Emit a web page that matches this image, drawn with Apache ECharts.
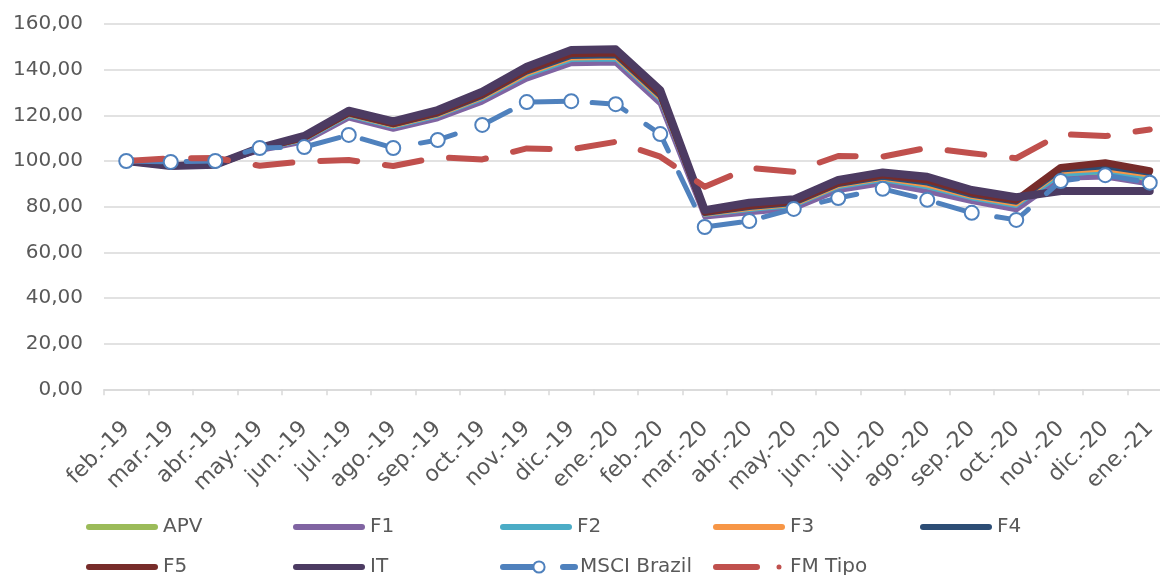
<!DOCTYPE html>
<html>
<head>
<meta charset="utf-8">
<script src="https://cdn.jsdelivr.net/npm/echarts@6/dist/echarts.min.js"></script>
<style>
html,body{margin:0;padding:0;background:#fff;}
#chart{width:1160px;height:575px;}
</style>
</head>
<body>
<div id="chart"></div>
<script>
var categories = ['feb.-19','mar.-19','abr.-19','may.-19','jun.-19','jul.-19','ago.-19','sep.-19','oct.-19','nov.-19','dic.-19','ene.-20','feb.-20','mar.-20','abr.-20','may.-20','jun.-20','jul.-20','ago.-20','sep.-20','oct.-20','nov.-20','dic.-20','ene.-21'];
var yTicks = [0, 20, 40, 60, 80, 100, 120, 140, 160];

var APV  = [100, 98.1, 98.7, 104.9, 108.9, 119.5, 114.6, 119.3, 126.8, 137.0, 143.8, 144.1, 126.3, 76.1, 78.2, 80.0, 88.1, 91.2, 88.0, 83.2, 79.9, 93.4, 94.8, 91.9];
var F1   = [100, 98.1, 98.7, 104.6, 108.4, 118.8, 113.9, 118.5, 125.8, 135.9, 142.6, 142.9, 125.0, 75.5, 77.3, 79.1, 87.1, 90.1, 86.6, 82.2, 78.6, 92.4, 93.0, 89.9];
var F2   = [100, 98.0, 98.6, 105.0, 109.1, 119.7, 114.9, 119.6, 127.1, 137.4, 144.2, 144.5, 126.7, 76.3, 78.5, 80.3, 88.5, 91.6, 88.5, 83.6, 80.3, 93.9, 95.3, 92.4];
var F3   = [100, 98.0, 98.6, 105.1, 109.4, 120.1, 115.3, 120.0, 127.6, 138.0, 144.9, 145.2, 127.4, 76.6, 79.0, 80.8, 89.0, 92.2, 89.2, 84.2, 80.9, 95.2, 96.3, 93.6];
var F4   = [100, 98.0, 98.5, 105.3, 109.8, 120.6, 115.8, 120.6, 128.3, 138.9, 145.8, 146.1, 128.3, 77.0, 79.6, 81.4, 89.7, 92.9, 90.3, 85.0, 81.9, 96.0, 97.5, 94.6];
var F5   = [100, 97.9, 98.5, 105.5, 110.3, 121.2, 116.4, 121.3, 129.2, 139.9, 147.0, 147.3, 129.5, 77.6, 80.4, 82.2, 90.5, 93.8, 91.7, 86.0, 82.9, 97.2, 99.2, 95.7];
var IT   = [100, 97.8, 98.4, 105.8, 111.0, 122.0, 117.3, 122.3, 130.3, 141.3, 148.6, 148.9, 131.0, 78.5, 81.7, 83.2, 91.7, 95.0, 93.1, 87.3, 84.1, 86.8, 86.8, 86.8];
var MSCI = [100, 99.6, 100.0, 105.7, 106.1, 111.4, 105.7, 109.2, 115.8, 125.8, 126.2, 124.9, 111.8, 71.1, 73.7, 79.0, 83.8, 87.8, 83.0, 77.3, 74.2, 91.2, 93.8, 90.5];
var FMTipo = [100, 101.2, 101.3, 97.9, 99.8, 100.4, 97.8, 101.6, 100.7, 105.5, 105.1, 108.4, 101.9, 88.7, 97.0, 95.3, 102.2, 101.9, 105.8, 103.4, 101.2, 111.8, 110.9, 113.8];

var FONT = 'DejaVu Sans';
var TXT = '#595959';
var GRID = '#d9d9d9';

// legend icon shapes (solid bar with round ends; dash + dot)
var ICON_SOLID = 'path://M3,0 L69,0 A3,3 0 0 1 69,6 L3,6 A3,3 0 0 1 3,0 Z';
var ICON_DASHDOT = 'path://M3,0 L44,0 A3,3 0 0 1 44,6 L3,6 A3,3 0 0 1 3,0 Z M66,0.5 A2.5,2.5 0 1 1 66,5.5 A2.5,2.5 0 1 1 66,0.5 Z M71.9,2.9 L72,2.9 L72,3.1 L71.9,3.1 Z';

function solid(name, data, color, width) {
  return {
    name: name, type: 'line', data: data, symbol: 'none', smooth: false,
    lineStyle: {color: color, width: width, cap: 'round', join: 'round'},
    itemStyle: {color: color},
    emphasis: {disabled: true}, animation: false
  };
}

var series = [
  solid('APV', APV, '#9BBB59', 4),
  solid('F1', F1, '#8064A2', 5),
  solid('F2', F2, '#4BACC6', 4),
  solid('F3', F3, '#F79646', 4),
  solid('F4', F4, '#2C4D75', 5),
  solid('F5', F5, '#772C2A', 7),
  solid('IT', IT, '#4C3B62', 8),
  {
    name: 'MSCI Brazil', type: 'line', data: MSCI,
    symbol: 'circle', symbolSize: 14, showAllSymbol: true,
    lineStyle: {color: '#4F81BD', width: 5, type: [36, 24], cap: 'round', join: 'round'},
    itemStyle: {color: '#ffffff', borderColor: '#4F81BD', borderWidth: 2},
    emphasis: {disabled: true}, animation: false
  },
  {
    name: 'FM Tipo', type: 'line', data: FMTipo, symbol: 'none',
    lineStyle: {color: '#C0504D', width: 6, type: [37, 28], cap: 'round', join: 'round'},
    itemStyle: {color: '#C0504D'},
    emphasis: {disabled: true}, animation: false
  }
];

// one legend per entry so the entries sit in fixed columns
var legendEntries = [
  {name: 'APV', color: '#9BBB59', icon: ICON_SOLID, left: 81, top: 512},
  {name: 'F1', color: '#8064A2', icon: ICON_SOLID, left: 288, top: 512},
  {name: 'F2', color: '#4BACC6', icon: ICON_SOLID, left: 495, top: 512},
  {name: 'F3', color: '#F79646', icon: ICON_SOLID, left: 708, top: 512},
  {name: 'F4', color: '#2C4D75', icon: ICON_SOLID, left: 915, top: 512},
  {name: 'F5', color: '#772C2A', icon: ICON_SOLID, left: 81, top: 552},
  {name: 'IT', color: '#4C3B62', icon: ICON_SOLID, left: 288, top: 552},
  {name: 'MSCI Brazil', color: null, icon: null, left: 495, top: 552},
  {name: 'FM Tipo', color: '#C0504D', icon: ICON_DASHDOT, left: 708, top: 552}
];

var legends = legendEntries.map(function (e) {
  var item = {name: e.name};
  if (e.icon) { item.icon = e.icon; item.itemStyle = {color: e.color, borderWidth: 0}; }
  return {
    data: [item], top: e.top, left: e.left, orient: 'horizontal',
    itemWidth: 72, itemHeight: 14, itemGap: 10,
    selectedMode: false, symbolKeepAspect: true,
    lineStyle: {width: 6, cap: 'round'},
    textStyle: {fontFamily: FONT, fontSize: 20, color: TXT}
  };
});

var chart = echarts.init(document.getElementById('chart'), null, {renderer: 'canvas'});
chart.setOption({
  animation: false,
  backgroundColor: '#ffffff',
  grid: {left: 104, top: 24, width: 1068, height: 365.3, containLabel: false, outerBoundsMode: 'none'},
  legend: legends,
  xAxis: {
    type: 'category', data: categories, boundaryGap: true,
    axisLine: {lineStyle: {color: GRID, width: 1.5}},
    axisTick: {show: true, length: 6, alignWithLabel: false, lineStyle: {color: GRID, width: 1.5}},
    axisLabel: {rotate: 45, interval: 0, margin: 36, fontFamily: FONT, fontSize: 22, color: TXT}
  },
  yAxis: {
    type: 'value', min: yTicks[0], max: yTicks[yTicks.length - 1], interval: yTicks[1] - yTicks[0],
    axisLine: {show: false}, axisTick: {show: false},
    splitLine: {lineStyle: {color: GRID, width: 1.5}},
    axisLabel: {margin: 21, fontFamily: FONT, fontSize: 20, color: TXT,
      formatter: function (v) { return v.toFixed(2).replace('.', ','); }}
  },
  series: series
});
</script>
</body>
</html>
